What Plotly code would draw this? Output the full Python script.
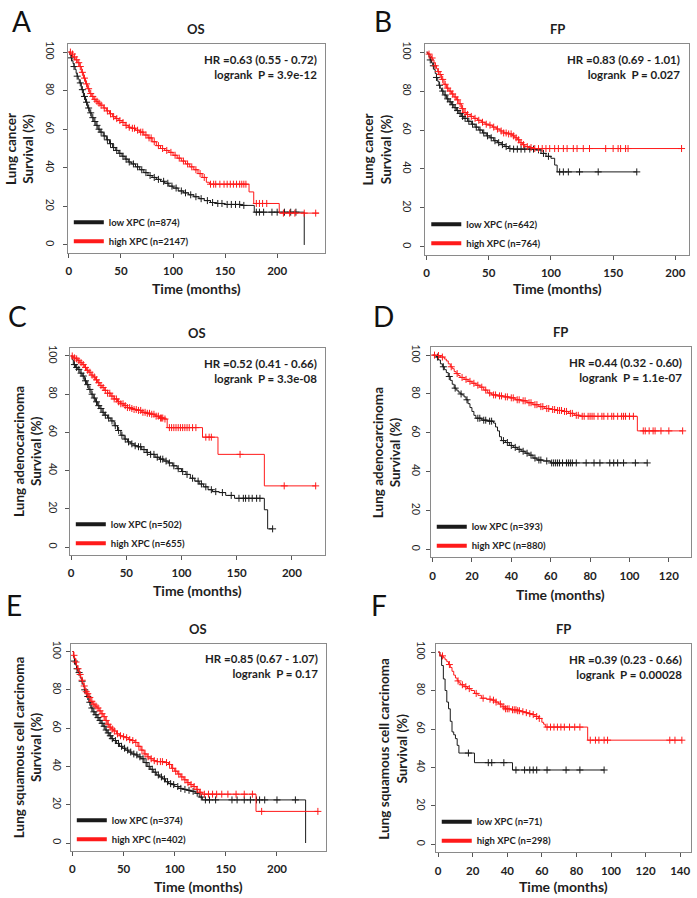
import numpy as np
import plotly.graph_objects as go

# ---------------- data ----------------
# Panel A: Lung cancer OS
A_low_t = [0, 1, 2, 3, 4, 5, 6, 7, 8, 9, 10, 12, 14, 16, 18, 20, 22, 24, 26, 28, 30, 33, 36, 39, 42, 45, 48, 51, 54, 57, 60, 64, 68, 72, 76, 80, 84, 88, 92, 96, 100, 105, 110, 115, 120, 125, 130, 136, 142, 150, 165, 178, 226]
A_low_s = [100, 98.5, 97, 95.5, 94, 92.5, 91, 89, 87.5, 86, 84, 80.5, 77, 74, 71, 68.5, 66, 64, 62, 60, 58.5, 56.5, 54.5, 52.5, 50.5, 49, 47.5, 46, 44.5, 43, 42, 40.5, 39, 37.5, 36, 35, 34, 33, 32, 30.5, 29.5, 28, 27, 26, 25, 24, 23, 22, 21.5, 21, 20.5, 17, 0]
A_low_c = [2.5, 5, 8, 11, 13, 15, 17, 19, 21, 23, 25, 27, 29, 31, 34, 37, 40, 43, 46, 49, 52, 55, 58, 62, 66, 70, 74, 78, 82, 86, 91, 95, 99, 103, 108, 112, 117, 122, 127, 133, 138, 143, 147, 152, 156, 160, 164, 168, 180, 183, 187, 195, 200, 207, 213, 218]
A_high_t = [0, 2, 4, 6, 8, 10, 12, 14, 16, 18, 20, 22, 24, 26, 28, 30, 33, 36, 39, 42, 45, 48, 51, 54, 57, 60, 64, 68, 72, 76, 80, 84, 88, 92, 96, 100, 104, 108, 112, 116, 120, 124, 128, 132, 135, 173, 177.5, 202, 240]
A_high_s = [100, 99, 97.5, 96, 94.5, 92.5, 89.5, 86.5, 83.5, 81, 78.5, 77, 75.5, 74.5, 73.5, 72.5, 71, 69.5, 68, 66.5, 65.5, 64.5, 63.5, 62, 61, 60.5, 59.5, 58.5, 57, 55.5, 53.5, 51.5, 50, 49, 48, 46.5, 45, 43.5, 42, 40.5, 39, 37, 35, 32.5, 31.5, 27.5, 21.5, 16.5, 16.5]
A_high_c = [1.5, 3.5, 5.5, 7.5, 9.5, 11, 13, 15, 17, 19, 21, 23, 25, 27, 29, 31, 34, 37, 40, 43, 46, 49, 52, 55, 58, 61, 63, 66, 69, 71, 74, 77, 79, 82, 86, 90, 94, 98, 102, 106, 110, 114, 118, 122, 126, 130, 136, 139, 141, 145, 149, 152, 155, 158, 161, 164, 166, 168, 170, 180, 183, 186, 190, 206, 212, 217, 226, 237]

# Panel B: Lung cancer FP
B_low_t = [0, 1, 2, 3, 4, 5, 6, 7, 8, 9, 10, 11, 12, 14, 16, 18, 20, 22, 24, 26, 28, 30, 33, 36, 39, 42, 45, 48, 51, 54, 57, 60, 63, 66, 70, 88, 92, 96, 100, 103, 105, 169]
B_low_s = [100, 99, 97.5, 96, 94.5, 93, 91, 89, 87, 85, 83, 81.5, 80, 78, 76, 74.5, 73, 71.5, 70, 68.5, 67, 66, 64.5, 63, 61.5, 60, 58.5, 57, 56, 54.5, 53.5, 52.5, 51.5, 50.5, 50.2, 49.8, 48, 46.5, 45.5, 42, 38.5, 38.5]
B_low_c = [3, 5.5, 8, 10.5, 13, 15, 17, 19, 21, 23, 25, 27, 29, 31, 34, 37, 40, 43, 46, 49, 52, 55, 58, 61, 64, 67, 70, 73, 76, 79, 83, 86, 90, 94, 98, 107, 110, 114, 123, 138, 169]
B_high_t = [0, 1, 2, 3, 4, 5, 6, 7, 8, 9, 10, 12, 14, 16, 18, 20, 22, 24, 26, 28, 30, 32, 35, 38, 41, 44, 47, 50, 53, 56, 59, 62, 66, 69, 71, 73, 75, 77, 79, 82, 86, 205]
B_high_s = [100, 99.5, 99, 98, 97, 96, 94.5, 93, 91.5, 90, 88.5, 86, 83.5, 81.5, 80, 78.5, 77, 75.5, 73.5, 71, 69, 68, 67, 66, 65, 64, 63, 62.5, 61.5, 60.5, 59.5, 58.5, 58, 57, 56, 55, 53.5, 52.5, 51.5, 51, 50.5, 50.5]
B_high_c = [2, 4.5, 7, 9.5, 11, 13, 15, 17, 19, 21, 23, 25, 27, 29, 31, 33, 36, 39, 42, 45, 48, 51, 54, 57, 60, 62, 64, 66, 68, 70, 72, 74, 76, 78, 81, 84, 87, 90, 93, 96, 99, 103, 106, 110, 113, 118, 121, 126, 131, 144, 150, 154, 156, 160, 162, 205]

# Panel C: Lung adenocarcinoma OS
C_low_t = [0, 1, 2, 4, 6, 8, 10, 12, 14, 16, 18, 20, 22, 24, 26, 28, 30, 33, 36, 39, 42, 45, 48, 51, 54, 57, 60, 64, 68, 72, 76, 80, 84, 88, 92, 96, 100, 104, 108, 112, 116, 120, 124, 128, 134, 140, 148, 175, 178, 182.5]
C_low_s = [100, 98, 95.5, 94, 93, 91, 89.5, 87, 85, 82.5, 80, 78, 76, 74, 72.5, 70.5, 69, 67.5, 66, 63.5, 61, 58.5, 56.5, 55, 54, 53, 52.5, 51, 49.5, 48.5, 47, 46, 45, 44, 42.5, 41, 39.5, 38, 36, 34.5, 33, 31.5, 30, 29, 28.5, 27, 25.5, 19.5, 9.5, 9.5]
C_low_c = [3, 5, 7, 9, 11, 13, 15, 17, 19, 21, 23, 25, 27, 29, 31, 34, 37, 40, 43, 46, 49, 52, 55, 58, 61, 63, 66, 69, 72, 75, 78, 81, 83, 86, 89, 93, 97, 101, 105, 110, 115, 118, 122, 127, 131, 137, 145, 152, 156, 158, 161, 164, 168, 171, 182.5]
C_high_t = [0, 2, 4, 6, 8, 10, 12, 14, 16, 18, 20, 22, 24, 26, 28, 30, 33, 36, 39, 42, 45, 48, 51, 54, 57, 60, 64, 68, 72, 76, 80, 84, 87, 119, 133, 175, 221.5]
C_high_s = [100, 99, 98.5, 97.5, 96.5, 95.5, 94, 92.5, 91.5, 90, 89, 87.5, 86, 84.5, 83.5, 82, 80.5, 79, 77.5, 76, 75, 74, 73, 72.5, 72, 71.5, 70.5, 70, 69.5, 68.5, 67.5, 67, 62.5, 57.5, 48.5, 32, 32]
C_high_c = [1, 3, 5, 7, 9, 11, 13, 15, 17, 19, 21, 23, 25, 27, 29, 31, 33, 35, 37, 39, 41, 43, 45, 47, 49, 51, 53, 55, 57, 59, 61, 63, 65, 67, 69, 71, 73, 75, 77, 79, 81, 82, 83, 85, 89, 91, 93, 95, 97, 99, 101, 103, 105, 107, 110, 113, 122, 125, 127, 153, 193, 221.5]

# Panel D: Lung adenocarcinoma FP
D_low_t = [0, 1, 2, 3, 4, 5, 6, 7, 8, 9, 10, 11, 12, 13, 14, 15, 16, 17, 18, 19, 20, 21, 22, 25, 28, 31, 32, 33, 34, 35, 37, 39, 41, 43, 45, 47, 49, 51, 53, 56, 60, 109]
D_low_s = [100, 99.7, 99, 97.5, 95.5, 94, 92.5, 91, 89, 87, 85, 83, 82, 81, 80, 79.5, 78.5, 77, 75, 73, 71, 69, 67.5, 66.5, 66, 65, 63, 61, 58, 56, 55, 53.5, 52.5, 51.5, 50.5, 49.5, 48.5, 47, 46, 45.5, 44.5, 44.5]
D_low_c = [2.5, 5.5, 8.5, 11.5, 14.5, 17.5, 23, 24, 26, 27, 29, 30, 36, 38, 40, 42, 44, 46, 48, 50, 52, 54, 55, 58, 60.5, 61.5, 62.5, 63.5, 64.5, 66, 68, 69, 70, 71, 73, 78, 82, 85, 90, 92, 94, 97, 103, 109]
D_high_t = [0, 2, 4, 6, 7, 8, 9, 10, 11, 12, 13, 14, 16, 18, 20, 22, 24, 26, 28, 30, 33, 36, 39, 42, 45, 48, 51, 54, 57, 60, 63, 66, 69, 72, 75, 104, 127]
D_high_s = [100, 99.8, 99, 98, 97, 95.5, 94, 93, 91.5, 90.5, 89.5, 88.5, 87.5, 86.5, 85.5, 84.5, 83.5, 82, 80.5, 79.5, 79, 78.5, 78, 77, 76.5, 75.5, 74.5, 73.5, 72.5, 72, 71.5, 71, 70, 69, 68.5, 61, 61]
D_high_c = [1, 3, 5, 9.5, 12.5, 15, 17, 19, 21, 23, 25, 27, 29, 31, 32, 34, 35, 37, 38, 40, 41, 43, 44, 46, 47, 49, 50, 52, 53, 55, 56, 58, 59, 61, 62, 63.5, 64.5, 65.5, 67, 68, 70, 71, 73, 74, 76, 77, 79, 80, 81, 82, 84, 86, 87, 89, 91, 92, 94, 96, 97, 98, 100, 102, 107, 108, 110, 112, 113, 116, 120, 127]

# Panel E: Lung squamous cell carcinoma OS
E_low_t = [0, 1, 2, 3, 4, 5, 6, 7, 8, 9, 10, 11, 12, 13, 14, 16, 18, 20, 22, 24, 26, 28, 30, 32, 34, 36, 38, 40, 43, 46, 49, 52, 55, 58, 61, 64, 67, 70, 73, 76, 79, 82, 85, 88, 91, 94, 97, 100, 104, 108, 112, 116, 120, 124, 127, 228]
E_low_s = [100, 97, 95, 93, 91, 90, 89, 88, 86, 84.5, 83, 81.5, 80, 78.5, 76.5, 73.5, 70.5, 68.5, 67, 65.5, 64, 62.5, 61, 59, 57.5, 56, 54.5, 53.5, 52, 50.5, 49.5, 48.5, 47.5, 46.5, 46, 45, 44, 42, 40, 38.5, 37, 35.5, 34.5, 33.5, 32, 31, 30.5, 29.5, 28.5, 28, 27.5, 27, 26, 24, 22.5, 0]
E_low_c = [2, 4.5, 6.5, 9.5, 12, 15, 17, 19, 21, 23, 25, 27, 29, 31, 33, 35, 37, 39, 42, 45, 48, 51, 54, 57, 60, 63, 66, 69, 72, 75, 78, 81, 84, 87, 90, 93, 96, 99, 103, 106, 110, 114, 118, 122, 126, 130, 134, 140, 156, 161, 168, 174, 180, 183, 188, 200, 218]
E_high_t = [0, 1, 2, 3, 4, 5, 6, 7, 8, 9, 10, 11, 12, 13, 14, 16, 18, 20, 22, 24, 26, 28, 30, 32, 34, 36, 38, 40, 43, 46, 49, 52, 55, 58, 61, 64, 67, 70, 73, 76, 79, 82, 90, 94, 97, 100, 103, 106, 109, 112, 115, 118, 121, 124, 127, 179.5, 240]
E_high_s = [100, 98, 96.5, 94.5, 92.5, 91, 89.5, 88, 86.5, 85, 83.5, 82, 80.5, 79, 78, 76, 74, 72.5, 71.5, 70.5, 69, 67.5, 66, 64, 62, 60.5, 59.5, 58.5, 57, 56, 55.5, 55, 54, 53.5, 52.5, 50.5, 48.5, 46.5, 45, 44, 43, 42.5, 42, 41, 39, 37.5, 36, 34.5, 33, 31.5, 30.5, 29.5, 28, 26.5, 25.5, 16.5, 16.5]
E_high_c = [1.5, 3.5, 5.5, 7.5, 9.5, 11.5, 13.5, 15, 17, 19, 21, 23, 25, 27, 29, 31, 33, 35, 37, 39, 41, 44, 47, 50, 53, 56, 59, 62, 65, 68, 71, 74, 77, 80, 83, 86, 88, 92, 95, 98, 101, 104, 107, 110, 113, 116, 119, 122, 125, 129, 133, 137, 141, 146, 152, 160, 168, 176, 185, 240]

# Panel F: Lung squamous cell carcinoma FP
F_low_t = [0, 1, 2, 3, 4, 5, 6, 7, 8, 9, 10, 11, 12, 21, 43, 96]
F_low_s = [100, 98, 93, 86, 80, 74, 70.5, 64, 58.5, 57, 55, 51.5, 47.5, 42.5, 38.7, 38.7]
F_low_c = [17.5, 29, 31, 38, 45, 50, 53, 55, 57, 63, 74, 82, 96]
F_high_t = [0, 1, 2, 3, 4, 5, 6, 7, 8, 9, 10, 11, 12, 13, 15, 17, 19, 21, 23, 25, 28, 31, 33, 35, 37, 39, 42, 46, 48, 50, 52, 54, 56, 58, 60, 61, 62, 86.5, 141]
F_high_s = [100, 98.5, 98, 97, 96, 95, 93.5, 92, 90, 88, 86.5, 85, 84, 83, 82, 81, 80, 78.5, 77.5, 76, 75.5, 75, 74, 73, 71.5, 70.5, 70, 69.5, 69, 68.5, 68, 67.5, 66.5, 65.5, 63.5, 62.5, 61, 54.2, 54.2]
F_high_c = [2.5, 6.5, 11.5, 14, 16, 18, 22, 26, 30, 32, 33.5, 36, 38, 39, 40, 41, 43, 44, 45, 46, 47, 49, 51, 53, 55, 57, 58.5, 63, 65, 67, 69, 71, 73, 76, 79, 82, 88, 91, 93, 96, 98, 134, 137, 141]

letters = ["A", "B", "C", "D", "E", "F"]
titles = ["OS", "FP", "OS", "FP", "OS", "FP"]
cohorts = ["Lung cancer", "Lung cancer", "Lung adenocarcinoma", "Lung adenocarcinoma",
           "Lung squamous cell carcinoma", "Lung squamous cell carcinoma"]
hr_text = ["HR =0.63 (0.55 - 0.72)", "HR =0.83 (0.69 - 1.01)", "HR =0.52 (0.41 - 0.66)",
           "HR =0.44 (0.32 - 0.60)", "HR =0.85 (0.67 - 1.07)", "HR =0.39 (0.23 - 0.66)"]
p_text = ["3.9e-12", "0.027", "3.3e-08", "1.1e-07", "0.17", "0.00028"]
low_n = [874, 642, 502, 393, 374, 71]
high_n = [2147, 764, 655, 880, 402, 298]
x_ticks = [[0, 50, 100, 150, 200], [0, 50, 100, 150, 200], [0, 50, 100, 150, 200],
           [0, 20, 40, 60, 80, 100, 120], [0, 50, 100, 150, 200], [0, 20, 40, 60, 80, 100, 120, 140]]
y_ticks = [0, 20, 40, 60, 80, 100]

low_series = [(A_low_t, A_low_s, A_low_c), (B_low_t, B_low_s, B_low_c), (C_low_t, C_low_s, C_low_c),
              (D_low_t, D_low_s, D_low_c), (E_low_t, E_low_s, E_low_c), (F_low_t, F_low_s, F_low_c)]
high_series = [(A_high_t, A_high_s, A_high_c), (B_high_t, B_high_s, B_high_c), (C_high_t, C_high_s, C_high_c),
               (D_high_t, D_high_s, D_high_c), (E_high_t, E_high_s, E_high_c), (F_high_t, F_high_s, F_high_c)]

# ---------------- layout (reference pixels) ----------------
W, H = 697, 898
BOX = [(66, 41.5, 324, 250.5), (424.5, 41.5, 689, 252.5), (68, 346.5, 324, 553.5),
       (430, 345.5, 690.5, 556), (69, 643, 325, 850.5), (435, 643.5, 690.5, 852)]
XRANGE = [(-1, 246), (-1, 211), (-1.2, 230), (-0.9, 131), (-1.6, 248), (-1.4, 146)]
YRANGE = (-4, 104)
LETTER_C = [(20, 18), (382, 18), (16, 314), (383, 314), (12, 604), (378, 604)]
YTITLE_X = [17.5, 376, 26.5, 386, 26, 392.5]
XTITLE_Y = [286, 286, 589, 593, 886, 886]
YTICK_STANDOFF = [4, 5, 3, 1, 0, 1]

FONT = "Lato"
LOW_COLOR = "#1a1a1a"
HIGH_COLOR = "#ff1a1a"
BOX_COLOR = "#8a8a8a"
TXT = "#1e1e1e"


def px(xr):
    return xr / W


def py(yr):
    return 1 - yr / H


fig = go.Figure()
annotations = []

for i in range(6):
    n = i + 1
    sfx = "" if n == 1 else str(n)
    xa, ya = "x" + sfx, "y" + sfx
    legname = "legend" + sfx
    l, t, r, b = BOX[i]

    for (tt, ss, cc), color in ((low_series[i], LOW_COLOR), (high_series[i], HIGH_COLOR)):
        fig.add_trace(go.Scatter(x=tt, y=ss, mode="lines", xaxis=xa, yaxis=ya,
                                 line=dict(color=color, width=1, shape="hv"),
                                 showlegend=False, hoverinfo="skip"))
        t_arr = np.asarray(tt, dtype=float)
        s_arr = np.asarray(ss, dtype=float)
        idx = np.searchsorted(t_arr, np.asarray(cc, dtype=float), side="right") - 1
        fig.add_trace(go.Scatter(x=cc, y=s_arr[idx], mode="markers", xaxis=xa, yaxis=ya,
                                 marker=dict(symbol="cross-thin", size=5,
                                             line=dict(color=color, width=1)),
                                 showlegend=False, hoverinfo="skip"))

    for label, color in ((f"low XPC (n={low_n[i]})", LOW_COLOR), (f"high XPC (n={high_n[i]})", HIGH_COLOR)):
        fig.add_trace(go.Scatter(x=[None], y=[None], mode="lines", xaxis=xa, yaxis=ya,
                                 line=dict(color=color, width=4), name=label,
                                 legend=legname, showlegend=True))

    fig.layout["xaxis" + sfx] = dict(
        domain=[px(l), px(r)], range=list(XRANGE[i]), anchor=ya,
        tickmode="array", tickvals=x_ticks[i], ticks="outside", ticklen=4,
        ticklabelstandoff=4,
        tickcolor="#555", showline=True, mirror=True, linecolor=BOX_COLOR, linewidth=1,
        showgrid=False, zeroline=False,
        tickfont=dict(family=FONT, size=11.5, color=TXT, weight="bold"))
    fig.layout["yaxis" + sfx] = dict(
        domain=[py(b), py(t)], range=list(YRANGE), anchor=xa,
        tickmode="array", tickvals=y_ticks, ticks="outside", ticklen=4, tickangle=90,
        ticklabelstandoff=YTICK_STANDOFF[i],
        tickcolor="#555", showline=True, mirror=True, linecolor=BOX_COLOR, linewidth=1,
        showgrid=False, zeroline=False,
        tickfont=dict(family=FONT, size=10.5, color=TXT))
    fig.layout[legname] = dict(
        x=px(l + 1), y=py(b + 3), xanchor="left", yanchor="bottom",
        bgcolor="rgba(0,0,0,0)", borderwidth=0, tracegroupgap=0, itemwidth=30,
        font=dict(family=FONT, size=9.5, color=TXT, weight="bold"))

    # panel title
    annotations.append(dict(xref=xa + " domain", yref=ya + " domain", x=0.5, y=1,
                            yanchor="bottom", yshift=5, showarrow=False, text=titles[i],
                            font=dict(family=FONT, size=13, color=TXT, weight="bold")))
    # statistics
    annotations.append(dict(xref=xa + " domain", yref=ya + " domain", x=0.975, y=0.97,
                            xanchor="right", yanchor="top", align="right", showarrow=False,
                            text=hr_text[i] + "<br>logrank\u00a0\u00a0P = " + p_text[i],
                            font=dict(family=FONT, size=11.5, color=TXT, weight="bold")))
    # axis titles
    annotations.append(dict(xref="paper", yref="paper", x=px((l + r) / 2), y=py(XTITLE_Y[i]),
                            xanchor="center", yanchor="middle", showarrow=False,
                            text="Time (months)",
                            font=dict(family=FONT, size=14, color=TXT, weight="bold")))
    annotations.append(dict(xref="paper", yref="paper", x=px(YTITLE_X[i]), y=py((t + b) / 2),
                            xanchor="center", yanchor="middle", showarrow=False, textangle=-90,
                            text=cohorts[i] + "<br>Survival (%)",
                            font=dict(family=FONT, size=13.5, color=TXT, weight="bold")))
    # panel letter
    lx, ly = LETTER_C[i]
    annotations.append(dict(xref="paper", yref="paper", x=px(lx), y=py(ly),
                            xanchor="center", yanchor="middle", showarrow=False, text=letters[i],
                            font=dict(family=FONT, size=28, color="#111")))

fig.update_layout(width=W, height=H, margin=dict(l=0, r=0, t=0, b=0),
                  paper_bgcolor="white", plot_bgcolor="white",
                  annotations=annotations, font=dict(family=FONT))
fig.write_html("out.html", config={"staticPlot": True, "displayModeBar": False},
               post_script="document.body.style.margin='0px';")
